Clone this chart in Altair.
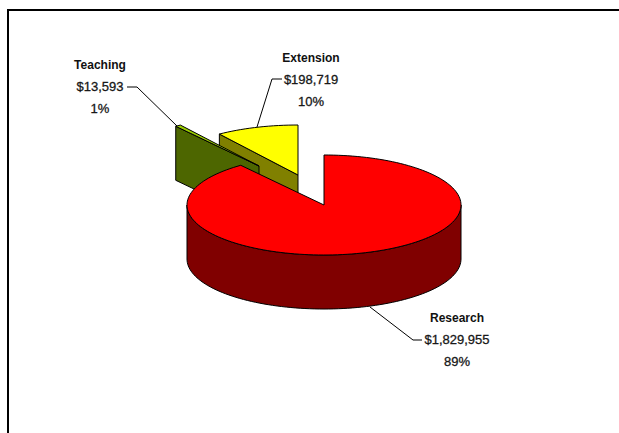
import math
import altair as alt
import pandas as pd

# Budget split shown as an exploded, tilted pie
categories = ["Research", "Teaching", "Extension"]
amounts = [1829955, 13593, 198719]
amount_labels = ["$1,829,955", "$13,593", "$198,719"]
percent_labels = ["89%", "1%", "10%"]

WIDTH, HEIGHT = 619, 433
RX, RY, DEPTH = 137, 50, 54

apexes = {"Research": (324, 205), "Teaching": (259, 166), "Extension": (298, 175)}
top_colors = {"Research": "#ff0000", "Teaching": "#99cc00", "Extension": "#ffff00"}
wall_colors = {"Research": "#800000", "Teaching": "#4d6600", "Extension": "#808000"}
label_centers = {"Research": (457, 318), "Teaching": (100, 65), "Extension": (311, 58)}
leaders = {
    "Research": [(370, 307), (413, 340), (422, 340)],
    "Teaching": [(127, 87), (137, 87), (177, 126)],
    "Extension": [(282, 79), (272, 79), (257, 127)],
}
LINE_GAP = 22

x_scale = alt.Scale(domain=[0, WIDTH], range=[0, WIDTH])
y_scale = alt.Scale(domain=[0, HEIGHT], range=[0, HEIGHT])


def rim(name, a0, a1, drop=0):
    """Points along the rim of a slice, angles in degrees clockwise from 12 o'clock."""
    cx, cy = apexes[name]
    steps = max(2, int(abs(a1 - a0) / 2))
    pts = []
    for i in range(steps + 1):
        a = math.radians(a0 + (a1 - a0) * i / steps)
        pts.append((cx + RX * math.sin(a), cy - RY * math.cos(a) + drop))
    return pts


def shape(points, fill):
    df = pd.DataFrame({"x": [p[0] for p in points], "y": [p[1] for p in points], "i": range(len(points))})
    return alt.Chart(df).mark_line(
        interpolate="linear-closed", fill=fill, stroke="#000000", strokeWidth=1, strokeJoin="miter"
    ).encode(
        x=alt.X("x:Q", scale=x_scale, axis=None),
        y=alt.Y("y:Q", scale=y_scale, axis=None),
        order="i:Q",
    )


def polyline(points, color="#000000", width=1.0):
    df = pd.DataFrame({"x": [p[0] for p in points], "y": [p[1] for p in points], "i": range(len(points))})
    return alt.Chart(df).mark_line(color=color, strokeWidth=width).encode(
        x=alt.X("x:Q", scale=x_scale, axis=None),
        y=alt.Y("y:Q", scale=y_scale, axis=None),
        order="i:Q",
    )


total = sum(amounts)
spans = {}
angle = 0.0
for name, amount in zip(categories, amounts):
    spans[name] = (angle, angle + amount / total * 360)
    angle = spans[name][1]

layers = []

# Slices are painted back to front: Extension, Teaching, Research
a0, a1 = spans["Extension"]
apex = apexes["Extension"]
edge = rim("Extension", a0, a0)[0]
layers.append(shape([apex, edge, (edge[0], edge[1] + DEPTH), (apex[0], apex[1] + DEPTH)], wall_colors["Extension"]))
layers.append(shape([apex] + rim("Extension", a0, a1), top_colors["Extension"]))

a0, a1 = spans["Teaching"]
apex = apexes["Teaching"]
edge = rim("Teaching", a0, a0)[0]
layers.append(shape([apex, edge, (edge[0], edge[1] + DEPTH), (apex[0], apex[1] + DEPTH)], wall_colors["Teaching"]))
layers.append(shape([apex] + rim("Teaching", a0, a1), top_colors["Teaching"]))

a0, a1 = spans["Research"]
front_top = rim("Research", 90, 270)
front_bottom = rim("Research", 270, 90, DEPTH)
layers.append(shape(front_top + front_bottom, wall_colors["Research"]))
layers.append(shape([apexes["Research"]] + rim("Research", a0, a1), top_colors["Research"]))

# Leader lines
for name in categories:
    layers.append(polyline(leaders[name]))

# Three-line labels: name, amount, percentage
rows = []
for name, amt, pct in zip(categories, amount_labels, percent_labels):
    cx, cy = label_centers[name]
    rows.append({"x": cx, "y": cy, "t": name, "w": "bold"})
    rows.append({"x": cx, "y": cy + LINE_GAP, "t": amt, "w": "normal"})
    rows.append({"x": cx, "y": cy + 2 * LINE_GAP, "t": pct, "w": "normal"})
rows_df = pd.DataFrame(rows)
text_styles = {
    "bold": dict(fontSize=12, fontWeight="bold"),
    "normal": dict(fontSize=13, fontWeight="normal", stroke="#222222", strokeWidth=0.3),
}
for weight, style in text_styles.items():
    layers.append(
        alt.Chart(rows_df[rows_df.w == weight]).mark_text(
            font="Liberation Sans", color="#111111", align="center", baseline="middle", **style
        ).encode(
            x=alt.X("x:Q", scale=x_scale, axis=None),
            y=alt.Y("y:Q", scale=y_scale, axis=None),
            text="t:N",
        )
    )

# Chart frame: left and top edges only, running off the canvas
layers.append(polyline([(8, HEIGHT), (8, 10), (WIDTH, 10)], width=2))

chart = alt.layer(*layers).properties(
    width=WIDTH, height=HEIGHT, padding=0, autosize=alt.AutoSizeParams(type="none"), background="#ffffff"
).configure_view(stroke=None)

chart.save("out.html", embed_options={"renderer": "svg", "actions": False})
